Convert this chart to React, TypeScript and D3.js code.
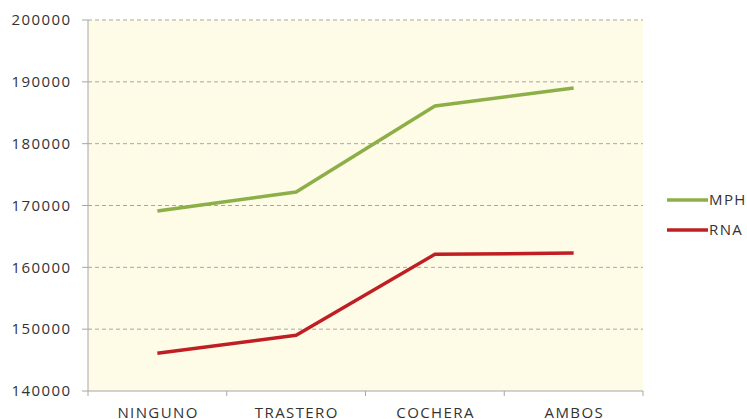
import React from "react";
import * as d3 from "d3";

const categories = ["NINGUNO", "TRASTERO", "COCHERA", "AMBOS"];
const mphValues = [169100, 172200, 186100, 189000];
const rnaValues = [146100, 149000, 162100, 162300];
const yTicks = [140000, 150000, 160000, 170000, 180000, 190000, 200000];
const seriesNames = ["MPH", "RNA"];

const W = 747, H = 419;
const left = 88, right = 643, top = 20, bottom = 391;
const FONT = "'Open Sans', 'Liberation Sans', sans-serif";
const LS = 1.4;

export default function App() {
  const x = d3.scaleBand<string>().domain(categories).range([left, right]);
  const y = d3.scaleLinear().domain([140000, 200000]).range([bottom, top]);
  const line = d3.line<number>()
    .x((_, i) => (x(categories[i]) as number) + x.bandwidth() / 2)
    .y((d) => y(d));
  const colors = ["#8CAF47", "#BF1E22"];
  const series = [mphValues, rnaValues];
  return (
    <svg width={W} height={H} style={{ position: "absolute", left: 0, top: 0 }}>
      <rect x={left} y={top} width={right - left} height={bottom - top} fill="#FEFBE7" />
      {yTicks.map((t) => (
        <g key={t}>
          {t !== 140000 && (
            <line x1={left} x2={right} y1={y(t)} y2={y(t)} stroke="#A6A6A6" strokeDasharray="4,3" strokeWidth={1} />
          )}
          <line x1={left - 6} x2={left} y1={y(t)} y2={y(t)} stroke="#A6A6A6" />
          <text x={70 + LS} y={y(t)} dy="0.35em" textAnchor="end" fontFamily={FONT} fontSize={15} letterSpacing={LS} fill="#333">
            {t}
          </text>
        </g>
      ))}
      <line x1={left} x2={left} y1={top} y2={bottom} stroke="#A6A6A6" />
      <line x1={left} x2={right} y1={bottom} y2={bottom} stroke="#A6A6A6" />
      {[...categories.map((c) => x(c) as number), right].map((px, i) => (
        <line key={i} x1={px} x2={px} y1={bottom} y2={bottom + 5} stroke="#A6A6A6" />
      ))}
      {categories.map((c) => (
        <text key={c} x={(x(c) as number) + x.bandwidth() / 2 + LS / 2} y={418} textAnchor="middle" fontFamily={FONT} fontSize={15} letterSpacing={LS} fill="#333">
          {c}
        </text>
      ))}
      {series.map((s, i) => (
        <path key={i} d={line(s) as string} fill="none" stroke={colors[i]} strokeWidth={3.5} strokeLinejoin="round" />
      ))}
      {seriesNames.map((n, i) => (
        <g key={n}>
          <line x1={667} x2={708} y1={200 + i * 30} y2={200 + i * 30} stroke={colors[i]} strokeWidth={3.5} />
          <text x={709} y={200 + i * 30} dy="0.35em" fontFamily={FONT} fontSize={15} letterSpacing={LS} fill="#333">
            {n}
          </text>
        </g>
      ))}
    </svg>
  );
}
